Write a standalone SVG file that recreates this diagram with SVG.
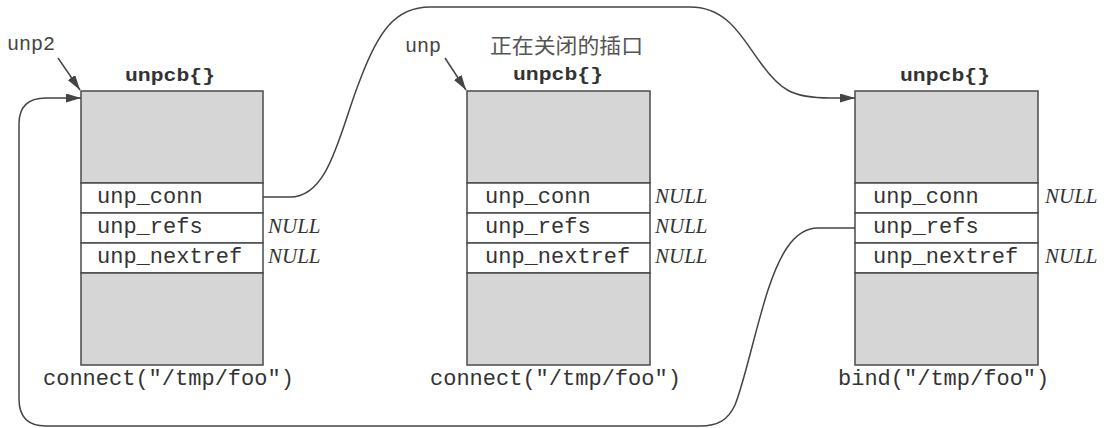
<svg xmlns="http://www.w3.org/2000/svg" width="1106" height="428" viewBox="0 0 1106 428">
  <style>
    .shade { fill: #d6d6d6; stroke: #4a4a4a; stroke-width: 1.5; }
    .field { fill: #ffffff; stroke: #4a4a4a; stroke-width: 1.5; }
    .mono { font-family: "Liberation Mono", "Courier New", monospace; font-size: 22px; fill: #333333; }
    .title { font-family: "Liberation Mono", "Courier New", monospace; font-size: 18px; font-weight: bold; fill: #333333; }
    .null { font-family: "Liberation Serif", "Times New Roman", serif; font-style: italic; font-size: 21px; fill: #333333; }
    .ptr { font-family: "Liberation Mono", "Courier New", monospace; font-size: 20px; fill: #444444; }
    .cjk { font-family: "Noto Sans CJK SC", "Noto Sans", sans-serif; font-size: 21px; fill: #555555; }
    .conn { fill: none; stroke: #444444; stroke-width: 1.5; }
  </style>
  <defs>
    <marker id="arrow" viewBox="0 0 15 9" refX="15" refY="4.5" markerWidth="15" markerHeight="9" markerUnits="userSpaceOnUse" orient="auto">
      <path d="M0,0 L15,4.5 L0,9 Z" fill="#444444"/>
    </marker>
  </defs>

  <rect width="1106" height="428" fill="#ffffff"/>

  <g id="connectors">
    <path class="conn" d="M255 197 H290 C330 197 340 130 360 80 C378 32 395 7 430 7 H690 C728 7 742 38 760 62 C780 90 792 98 830 98 H855" marker-end="url(#arrow)"/>
    <path class="conn" d="M858 228 H818 C792 228 778 260 768 290 C755 330 745 380 735 405 C728 420 718 426 700 426 H46 Q19 426 19 399 V124 Q19 98 46 98 H81" marker-end="url(#arrow)"/>
    <path class="conn" d="M58 58 L80 90" marker-end="url(#arrow)"/>
    <path class="conn" d="M445 58 L466 90" marker-end="url(#arrow)"/>
  </g>

  <g id="label-unp2">
    <text class="ptr" x="7" y="50">unp2</text>
  </g>
  <g id="label-unp">
    <text class="ptr" x="405" y="52">unp</text>
  </g>
  <g id="label-closing">
    <text class="cjk" x="490" y="53" textLength="153" lengthAdjust="spacingAndGlyphs">正在关闭的插口</text>
  </g>

  <g id="node-unpcb1">
    <text class="title" x="125" y="81" textLength="90" lengthAdjust="spacingAndGlyphs">unpcb{}</text>
    <rect class="shade" x="81" y="91" width="182" height="92"/>
    <rect class="field" x="81" y="183" width="182" height="30"/>
    <rect class="field" x="81" y="213" width="182" height="30"/>
    <rect class="field" x="81" y="243" width="182" height="30"/>
    <rect class="shade" x="81" y="273" width="182" height="92"/>
    <text class="mono" x="97" y="203">unp_conn</text>
    <text class="mono" x="97" y="233">unp_refs</text>
    <text class="mono" x="97" y="263">unp_nextref</text>
    <text class="null" x="268" y="233">NULL</text>
    <text class="null" x="268" y="263">NULL</text>
    <text class="mono" x="43" y="385">connect("/tmp/foo")</text>
  </g>

  <g id="node-unpcb2">
    <text class="title" x="513" y="80" textLength="90" lengthAdjust="spacingAndGlyphs">unpcb{}</text>
    <rect class="shade" x="467" y="91" width="183" height="92"/>
    <rect class="field" x="467" y="183" width="183" height="30"/>
    <rect class="field" x="467" y="213" width="183" height="30"/>
    <rect class="field" x="467" y="243" width="183" height="30"/>
    <rect class="shade" x="467" y="273" width="183" height="92"/>
    <text class="mono" x="485" y="203">unp_conn</text>
    <text class="mono" x="485" y="233">unp_refs</text>
    <text class="mono" x="485" y="263">unp_nextref</text>
    <text class="null" x="655" y="203">NULL</text>
    <text class="null" x="655" y="233">NULL</text>
    <text class="null" x="655" y="263">NULL</text>
    <text class="mono" x="430" y="385">connect("/tmp/foo")</text>
  </g>

  <g id="node-unpcb3">
    <text class="title" x="900" y="81" textLength="90" lengthAdjust="spacingAndGlyphs">unpcb{}</text>
    <rect class="shade" x="855" y="91" width="183" height="92"/>
    <rect class="field" x="855" y="183" width="183" height="30"/>
    <rect class="field" x="855" y="213" width="183" height="30"/>
    <rect class="field" x="855" y="243" width="183" height="30"/>
    <rect class="shade" x="855" y="273" width="183" height="92"/>
    <text class="mono" x="873" y="203">unp_conn</text>
    <text class="mono" x="873" y="233">unp_refs</text>
    <text class="mono" x="873" y="263">unp_nextref</text>
    <text class="null" x="1045" y="203">NULL</text>
    <text class="null" x="1045" y="263">NULL</text>
    <text class="mono" x="838" y="385">bind("/tmp/foo")</text>
  </g>
</svg>
